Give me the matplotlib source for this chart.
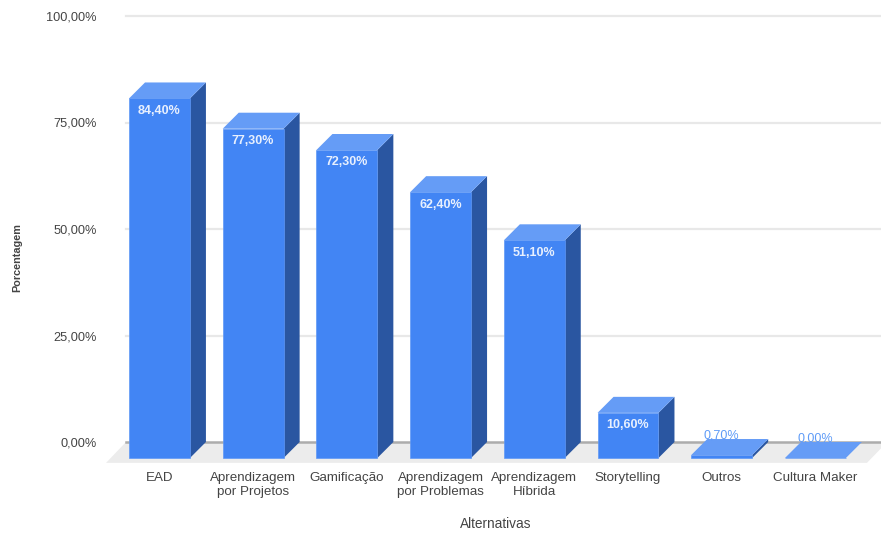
import matplotlib
matplotlib.use('Agg')
import matplotlib.pyplot as plt
from matplotlib.patches import Polygon

categories = ['EAD', 'Aprendizagem\npor Projetos', 'Gamificação', 'Aprendizagem\npor Problemas',
              'Aprendizagem\nHíbrida', 'Storytelling', 'Outros', 'Cultura Maker']
values = [84.4, 77.3, 72.3, 62.4, 51.1, 10.6, 0.7, 0.0]
y_ticks = [0, 25, 50, 75, 100]
y_tick_labels = ['0,00%', '25,00%', '50,00%', '75,00%', '100,00%']

FRONT = '#4285f4'
TOP = '#659cf6'
SIDE = '#2a56a1'
TEXT = '#444444'

# the 3d look: bars sit in front of the grid plane by this much
depth_x = 0.171
depth_y = 3.76
width = 0.65

plt.rcParams['font.family'] = ['Liberation Sans', 'DejaVu Sans']

W, H = 881, 533
fig = plt.figure(figsize=(W / 100, H / 100), dpi=100)
ax = fig.add_axes([126 / W, (H - 442) / H, 755 / W, 426 / H])
ax.set_xlim(-0.357, 7.70)
ax.set_ylim(0, 100)
for s in ax.spines.values():
    s.set_visible(False)

ax.set_yticks(y_ticks)
ax.set_yticklabels(y_tick_labels, fontsize=9.2, color=TEXT)
ax.set_xticks(range(len(categories)))
ax.set_xticklabels(categories, fontsize=9.6, color=TEXT, linespacing=1.25)
ax.tick_params(axis='y', length=0, pad=21)
ax.tick_params(axis='x', length=0, pad=21.5)

for t in y_ticks[1:]:
    ax.axhline(t, color='#e8e8e8', lw=1.6, zorder=1, clip_on=False)

# floor
x0, x1 = ax.get_xlim()
ax.add_patch(Polygon([(x0, 0), (x1, 0), (x1, -1.5), (x1 - 0.15, -4.9), (x0 - 0.213, -4.9)],
                     closed=True, fc='#ececec', ec='none', zorder=2, clip_on=False))
ax.axhline(0, color='#acacac', lw=1.8, zorder=3, clip_on=False)

for i, v in enumerate(values):
    l = i - width / 2
    r = i + width / 2
    b = -depth_y
    t = v - depth_y
    ax.add_patch(Polygon([(r, b), (r + depth_x, 0), (r + depth_x, v), (r, t)],
                         closed=True, fc=SIDE, ec='none', zorder=4, clip_on=False))
    ax.add_patch(Polygon([(l, t), (l + depth_x, v), (r + depth_x, v), (r, t)],
                         closed=True, fc=TOP, ec='none', zorder=5, clip_on=False))
    ax.add_patch(Polygon([(l, b), (r, b), (r, t), (l, t)],
                         closed=True, fc=FRONT, ec='#5f98f6', lw=0.5, zorder=6, clip_on=False))
    label = ('%.2f%%' % v).replace('.', ',')
    if v > 5:
        ax.text(i, t - 2.9, label, ha='center', va='center', fontsize=9, fontweight='bold',
                color='#e8f0fe', zorder=7)
    else:
        ax.text(i, v + 0.8, label, ha='center', va='center', fontsize=9,
                color='#5e9bf7', zorder=7)

fig.text(17 / W, 1 - 258 / H, 'Porcentagem', rotation=90, ha='center', va='center',
         fontsize=7.8, fontweight='bold', color=TEXT)
fig.text(496 / W, 1 - 524 / H, 'Alternativas', ha='center', va='center',
         fontsize=9.8, color=TEXT)

fig.savefig('out.png', dpi=100)
